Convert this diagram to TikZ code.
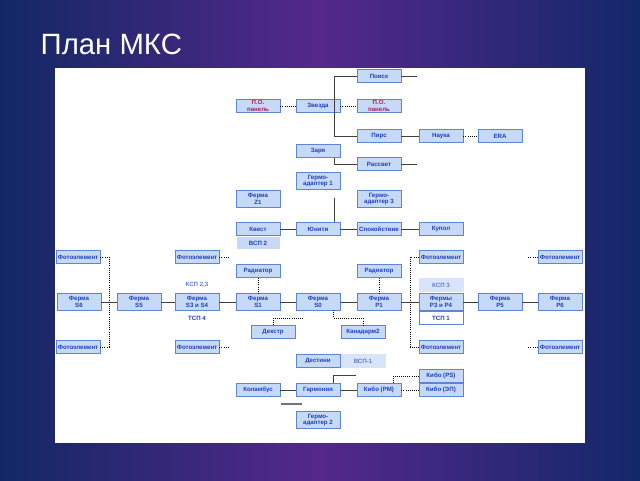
\documentclass[tikz,border=0pt]{standalone}
\usepackage{fontspec}
\setmainfont{Liberation Sans}
\usetikzlibrary{positioning}
\definecolor{boxfill}{RGB}{198,217,247}
\definecolor{boxline}{RGB}{92,133,214}
\definecolor{boxtext}{RGB}{31,63,191}
\definecolor{podtext}{RGB}{170,30,90}
\begin{document}
\begin{tikzpicture}[x=0.75pt,y=-0.75pt,
  box/.style={draw=boxline,fill=boxfill,text=boxtext,minimum width=33pt,minimum height=10pt,
    inner sep=0.5pt,align=center,font=\fontsize{4.6}{5}\selectfont\bfseries,line width=0.5pt},
  tall/.style={box,minimum height=13pt},
  pale/.style={box,draw=white,fill=white},
  link/.style={draw=black!75,line width=0.7pt},
  dots/.style={draw=black,densely dotted,line width=0.6pt}]

%Background and panel
\shade[left color={rgb,255:red,18;green,40;blue,100},right color={rgb,255:red,18;green,40;blue,105},
  middle color={rgb,255:red,85;green,40;blue,140}] (0,0) rectangle (640,480);
\node[anchor=west,text=white,font=\fontsize{22}{24}\selectfont] (title) at (36,44) {План МКС};
\fill[white] (55,68) rectangle (585,443);

%Russian and upper segment
\node[box] (poisk) at (379,76) {Поиск};
\node[box,text=podtext] (pol) at (258,106) {П.О.\\панель};
\node[box] (zvezda) at (318,106) {Звезда};
\node[box,text=podtext] (por) at (379,106) {П.О.\\панель};
\node[box] (pirs) at (379,136) {Пирс};
\node[box] (nauka) at (441,136) {Наука};
\node[box] (era) at (500,136) {ERA};
\node[box] (zarya) at (318,151) {Заря};
\node[box] (rassvet) at (379,164) {Рассвет};
\node[tall] (pma1) at (318,181) {Гермо-\\адаптер 1};
\node[tall] (z1) at (258,199) {Ферма\\Z1};
\node[tall] (pma3) at (379,199) {Гермо-\\адаптер 3};
\node[box] (kvest) at (258,229) {Квест};
\node[box,draw=white] (vsp2) at (258,243) {ВСП 2};
\node[box] (unity) at (318,229) {Юнити};
\node[box] (tranq) at (379,229) {Спокойствие};
\node[box] (kupol) at (441,229) {Купол};

\coordinate (up1) at (334,76);
\coordinate (up2) at (334,136);
\coordinate (ra1) at (334,164);
\draw[link] (poisk.west) -- (up1) -- (up2) -- (pirs.west);
\draw[link] (zvezda.south -| up1) -- (up1);
\draw[link] (poisk.east) -- ++(16,0);
\draw[link] (zarya.south -| ra1) -- (ra1) -- (rassvet.west);
\draw[link] (rassvet.east) -- ++(16,0);
\draw[link] (pirs) -- (nauka);
\draw[dots] (pol) -- (zvezda);
\draw[dots] (zvezda) -- (por);
\draw[dots] (nauka) -- (era);
\draw[link] (334,198) -- (unity.north -| ra1);
\draw[link] (kvest) -- (unity) -- (tranq) -- (kupol);

%Truss
\node[tall] (s6) at (79,302) {Ферма\\S6};
\node[tall] (s5) at (139,302) {Ферма\\S5};
\node[tall] (s34) at (197,302) {Ферма\\S3 и S4};
\node[tall] (s1) at (258,302) {Ферма\\S1};
\node[tall] (s0) at (318,302) {Ферма\\S0};
\node[tall] (p1) at (379,302) {Ферма\\P1};
\node[tall] (p34) at (441,302) {Фермы\\P3 и P4};
\node[tall] (p5) at (500,302) {Ферма\\P5};
\node[tall] (p6) at (560,302) {Ферма\\P6};
\draw[link] (s6) -- (s5) -- (s34) -- (s1) -- (s0) -- (p1) -- (p34) -- (p5) -- (p6);

\node[pale,text=boxtext!70] (ksp2) at (197,285) {КСП 2,3};
\node[pale] (tsp4) at (197,318) {ТСП 4};
\node[box,fill=boxfill!70,draw=boxfill!70,text=boxtext!70] (ksp3) at (441,285) {КСП 3};
\node[box,fill=white] (tsp1) at (441,318) {ТСП 1};
\node[box] (rad1) at (258,271) {Радиатор};
\node[box] (rad2) at (379,271) {Радиатор};
\draw[dots] (rad1) -- (s1);
\draw[dots] (rad2) -- (p1);

%Solar arrays
\node[box] (fe1) at (78,257) {Фотоэлемент};
\node[box] (fe2) at (78,347) {Фотоэлемент};
\node[box] (fe3) at (197,257) {Фотоэлемент};
\node[box] (fe4) at (197,347) {Фотоэлемент};
\node[box] (fe5) at (441,257) {Фотоэлемент};
\node[box] (fe6) at (441,347) {Фотоэлемент};
\node[box] (fe7) at (560,257) {Фотоэлемент};
\node[box] (fe8) at (560,347) {Фотоэлемент};
\draw[dots] (fe1.east) -| (109,302) |- (fe2.east);
\draw[dots] (fe3.east) -- ++(10,0);
\draw[dots] (fe4.east) -- ++(10,0);
\draw[dots] (fe5.west) -| (410,302) |- (fe6.west);
\draw[dots] (fe7.west) -- ++(-10,0);
\draw[dots] (fe8.west) -- ++(-10,0);

%Manipulators
\node[box] (dextre) at (273,332) {Декстр};
\node[box] (canadarm) at (363,332) {Канадарм2};
\draw[dots] (dextre.north) |- (303,318);
\draw[dots] (333,310) |- (363,318) -- (canadarm.north);

%US, European and Japanese segment
\node[box] (destiny) at (318,361) {Дестини};
\node[box,fill=boxfill!70,draw=boxfill!70,text=boxtext!70] (vsp1) at (363,361) {ВСП-1};
\node[box] (columbus) at (258,390) {Коламбус};
\node[box] (harmony) at (318,390) {Гармония};
\node[tall] (pma2) at (318,420) {Гермо-\\адаптер 2};
\node[box] (kibopm) at (379,390) {Кибо (PM)};
\node[box] (kibops) at (441,376) {Кибо (PS)};
\node[box] (kiboep) at (441,390) {Кибо (ЭП)};
\draw[link] (columbus) -- (harmony) -- (kibopm);
\draw[link] (harmony.north -| 333,0) |- (356,375);
\draw[link,draw=black!55,line width=1pt] (281,404) -- (302,404);
\draw[dots] (kibopm.north -| 393,0) |- (kibops.west);
\draw[dots] (kibopm) -- (kiboep);

\end{tikzpicture}
\end{document}
